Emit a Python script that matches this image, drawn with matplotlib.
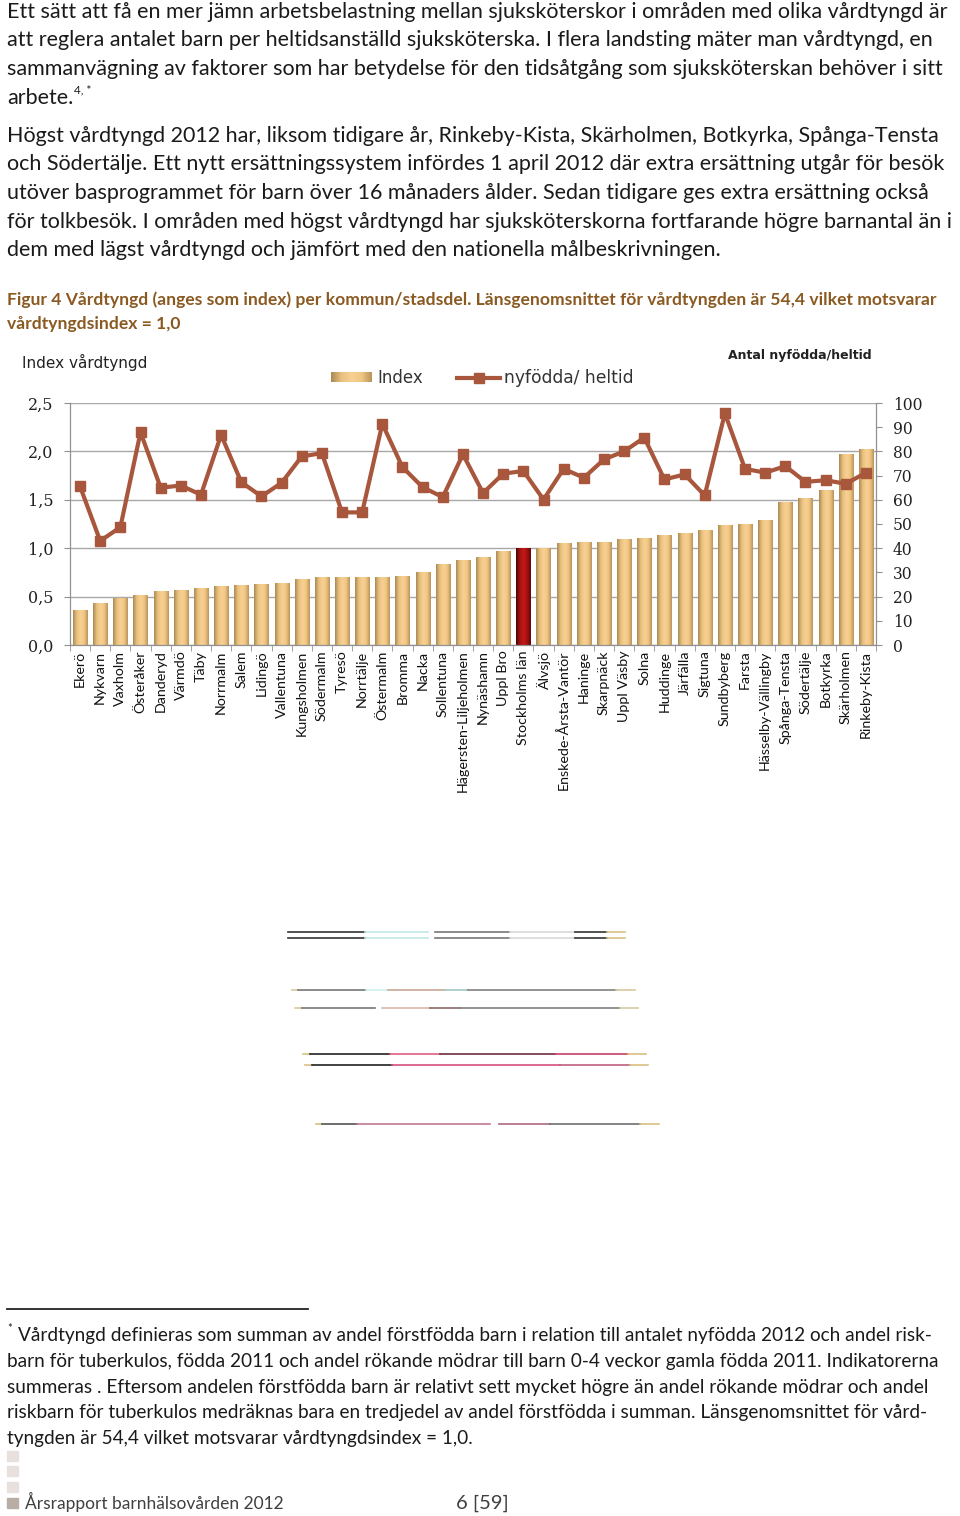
import numpy as np
import matplotlib
matplotlib.use('Agg')
import matplotlib.pyplot as plt
from matplotlib.colors import LinearSegmentedColormap
from matplotlib.lines import Line2D
from matplotlib.patches import Rectangle

W, H = 960, 1516

# data
categories = ['Ekerö', 'Nykvarn', 'Vaxholm', 'Österåker', 'Danderyd', 'Värmdö', 'Täby',
              'Norrmalm', 'Salem', 'Lidingö', 'Vallentuna', 'Kungsholmen', 'Södermalm',
              'Tyresö', 'Norrtälje', 'Östermalm', 'Bromma', 'Nacka', 'Sollentuna',
              'Hägersten-Liljeholmen', 'Nynäshamn', 'Uppl Bro', 'Stockholms län', 'Älvsjö',
              'Enskede-Årsta-Vantör', 'Haninge', 'Skarpnäck', 'Uppl Väsby', 'Solna',
              'Huddinge', 'Järfälla', 'Sigtuna', 'Sundbyberg', 'Farsta',
              'Hässelby-Vällingby', 'Spånga-Tensta', 'Södertälje', 'Botkyrka',
              'Skärholmen', 'Rinkeby-Kista']
index_values = [0.36, 0.43, 0.48, 0.51, 0.55, 0.56, 0.58, 0.60, 0.61, 0.62, 0.64, 0.68,
                0.70, 0.70, 0.70, 0.70, 0.71, 0.75, 0.83, 0.87, 0.90, 0.97, 1.00, 1.00,
                1.05, 1.06, 1.06, 1.09, 1.10, 1.13, 1.15, 1.18, 1.23, 1.25, 1.29, 1.47,
                1.51, 1.60, 1.97, 2.02]
nyfodda_values = [65.5, 43.0, 48.7, 87.9, 65.0, 65.9, 62.1, 86.8, 67.3, 61.4, 67.0, 77.9,
                  79.3, 54.8, 54.8, 91.4, 73.5, 65.2, 61.1, 78.8, 62.8, 70.8, 71.9, 60.1,
                  72.8, 69.1, 76.7, 80.0, 85.7, 68.4, 70.5, 61.8, 95.7, 72.8, 71.2, 73.9,
                  67.4, 68.1, 66.6, 71.2]
highlight = 'Stockholms län'

body_font = ['Lato', 'DejaVu Sans']
plt.rcParams['font.family'] = body_font

fig = plt.figure(figsize=(W / 100, H / 100), dpi=100)


def txt(x, y, s, **kw):
    kw.setdefault('va', 'baseline')
    return fig.text(x / W, 1 - y / H, s, **kw)


def fig_line(x0, x1, y, color, lw=1.0):
    fig.add_artist(Line2D([x0 / W, x1 / W], [1 - y / H, 1 - y / H], color=color, lw=lw))


body_size = 15.5
text_color = '#1a1a1a'
para1 = ["Ett sätt att få en mer jämn arbetsbelastning mellan sjuksköterskor i områden med olika vårdtyngd är",
         "att reglera antalet barn per heltidsanställd sjuksköterska. I flera landsting mäter man vårdtyngd, en",
         "sammanvägning av faktorer som har betydelse för den tidsåtgång som sjuksköterskan behöver i sitt"]
for i, line in enumerate(para1):
    txt(7, 18 + i * 28.5, line, fontsize=body_size, color=text_color)
t = txt(7, 18 + 3 * 28.5, "arbete.", fontsize=body_size, color=text_color)
fig.canvas.draw()
end_x = t.get_window_extent().x1
txt(end_x + 1, 93, "4, *", fontsize=8.5, color=text_color)

para2 = ["Högst vårdtyngd 2012 har, liksom tidigare år, Rinkeby-Kista, Skärholmen, Botkyrka, Spånga-Tensta",
         "och Södertälje. Ett nytt ersättningssystem infördes 1 april 2012 där extra ersättning utgår för besök",
         "utöver basprogrammet för barn över 16 månaders ålder. Sedan tidigare ges extra ersättning också",
         "för tolkbesök. I områden med högst vårdtyngd har sjuksköterskorna fortfarande högre barnantal än i",
         "dem med lägst vårdtyngd och jämfört med den nationella målbeskrivningen."]
for i, line in enumerate(para2):
    txt(7, 142 + i * 28.5, line, fontsize=body_size, color=text_color)

cap_color = '#8a5a22'
txt(7, 305, "Figur 4 Vårdtyngd (anges som index) per kommun/stadsdel. Länsgenomsnittet för vårdtyngden är 54,4 vilket motsvarar",
    fontsize=12.6, color=cap_color, fontweight='bold')
txt(7, 329, "vårdtyngdsindex = 1,0", fontsize=12.6, color=cap_color, fontweight='bold')

# chart
x0, x1, ytop, ybot = 70, 876, 403, 645
ax = fig.add_axes([x0 / W, 1 - ybot / H, (x1 - x0) / W, (ybot - ytop) / H])
ax2 = ax.twinx()

gold = LinearSegmentedColormap.from_list('gold', ['#a98a55', '#e9c07e', '#f8d093', '#f2c784', '#b8955c'])
red = LinearSegmentedColormap.from_list('red', ['#4a0505', '#a81010', '#c01a1a', '#a81010', '#5a0808'])
grad = np.linspace(0, 1, 64).reshape(1, -1)

xpos = np.arange(len(categories))
bars = ax.bar(xpos, index_values, width=0.7, color='none', zorder=2)
for name, b in zip(categories, bars):
    cmap = red if name == highlight else gold
    ax.imshow(grad, cmap=cmap, aspect='auto', zorder=2,
              extent=[b.get_x(), b.get_x() + b.get_width(), 0, b.get_height()])

ax.set_xlim(-0.5, len(categories) - 0.5)
ax.set_ylim(0, 2.5)
ax.set_yticks(np.arange(0, 2.51, 0.5))
ax.set_yticklabels([f"{v:.1f}".replace('.', ',') for v in np.arange(0, 2.51, 0.5)],
                   family=['DejaVu Serif'], fontsize=11.5, color='#222222')
ax.yaxis.grid(True, color='#a8a8a8', lw=1.0, zorder=0)
ax.set_axisbelow(True)
ax.set_xticks(xpos)
ax.set_xticklabels(categories, rotation=90, fontsize=10.3, color='#111111')
ax.set_xticks(np.arange(-0.5, len(categories), 1), minor=True)
ax.tick_params(axis='x', which='major', length=0, pad=4)
ax.tick_params(axis='x', which='minor', length=4, color='#909090')
ax.tick_params(axis='y', length=4, color='#909090', pad=8)
for side in ['top']:
    ax.spines[side].set_visible(False)
    ax2.spines[side].set_visible(False)
for sp in ['left', 'right', 'bottom']:
    ax.spines[sp].set_color('#909090')
    ax2.spines[sp].set_color('#909090')

ax2.plot(xpos, nyfodda_values, color='#a8563c', lw=3, marker='s', markersize=7,
         markerfacecolor='#a8563c', markeredgecolor='#a8563c', zorder=3)
ax2.set_ylim(0, 100)
ax2.set_yticks(np.arange(0, 101, 10))
ax2.set_yticklabels([str(v) for v in range(0, 101, 10)], family=['DejaVu Serif'],
                    fontsize=11.2, color='#222222')
ax2.tick_params(axis='y', length=4, color='#909090', pad=8)

# axis titles and legend
txt(22, 368, "Index vårdtyngd", fontsize=11, color='#222222', family=['DejaVu Sans'])
txt(728, 359, "Antal nyfödda/heltid", fontsize=9.0, color='#222222', family=['DejaVu Sans'],
    fontweight='bold')
lax = fig.add_axes([331 / W, 1 - 382 / H, 41 / W, 10 / H])
lax.imshow(grad, cmap=gold, aspect='auto')
lax.axis('off')
txt(377, 383, "Index", fontsize=12, color='#333333', family=['DejaVu Sans'])
fig.add_artist(Line2D([457 / W, 500 / W], [1 - 377.5 / H] * 2, color='#a8563c', lw=3))
fig.add_artist(Line2D([478.5 / W], [1 - 377.5 / H], color='#a8563c', marker='s', markersize=7))
txt(504, 383, "nyfödda/ heltid", fontsize=12.3, color='#333333', family=['DejaVu Sans'])

# stray rule fragments below the chart
fragments = [
    (932, [(288, 365, '#333333'), (365, 428, '#bfe8e8'), (435, 510, '#777777'),
           (510, 575, '#d8d8d8'), (575, 607, '#333333'), (607, 625, '#d8c080')]),
    (938, [(288, 365, '#333333'), (365, 428, '#bfe8e8'), (435, 510, '#777777'),
           (510, 575, '#d8d8d8'), (575, 607, '#333333'), (607, 625, '#d8c080')]),
    (990, [(292, 298, '#d8c8a0'), (298, 366, '#777777'), (366, 388, '#d0f0f0'),
           (388, 445, '#c8a898'), (445, 468, '#a0c8c8'), (468, 616, '#808080'), (616, 635, '#d8c8a0')]),
    (1008, [(295, 302, '#d8c8a0'), (302, 375, '#777777'), (382, 430, '#d8b8a8'),
            (430, 460, '#8a6a6a'), (460, 620, '#808080'), (620, 638, '#d8c8a0')]),
    (1054, [(303, 310, '#d8c080'), (310, 390, '#222222'), (390, 440, '#e06080'),
            (440, 555, '#703040'), (555, 628, '#c84068'), (628, 646, '#d8c080')]),
    (1065, [(305, 312, '#d8c080'), (312, 392, '#222222'), (392, 560, '#d85080'),
            (560, 630, '#c06080'), (630, 648, '#d8c080')]),
    (1124, [(316, 322, '#d8c080'), (322, 357, '#555555'), (357, 490, '#c07890'),
            (499, 550, '#b06880'), (550, 640, '#707070'), (640, 659, '#d8c080')]),
]
for y, segs in fragments:
    for a, b, c in segs:
        fig_line(a, b, y, c, lw=1.2)

# footnote
fig_line(7, 308, 1309, '#222222', lw=1.3)
foot_size = 13.7
txt(7, 1332, "*", fontsize=8, color=text_color)
foot = ["Vårdtyngd definieras som summan av andel förstfödda barn i relation till antalet nyfödda 2012 och andel risk-",
        "barn för tuberkulos, födda 2011 och andel rökande mödrar till barn 0-4 veckor gamla födda 2011. Indikatorerna",
        "summeras . Eftersom andelen förstfödda barn är relativt sett mycket högre än andel rökande mödrar och andel",
        "riskbarn för tuberkulos medräknas bara en tredjedel av andel förstfödda i summan. Länsgenomsnittet för vård-",
        "tyngden är 54,4 vilket motsvarar vårdtyngdsindex = 1,0."]
for i, line in enumerate(foot):
    x = 18 if i == 0 else 7
    txt(x, 1341 + i * 25.8, line, fontsize=foot_size, color=text_color)

# footer
for y, c in [(1451, '#e8e0dc'), (1466, '#e8e0dc'), (1482, '#e8e0dc'), (1498, '#b8aea6')]:
    fig.add_artist(Rectangle((7 / W, 1 - (y + 10) / H), 11 / W, 10 / H, color=c,
                             transform=fig.transFigure))
txt(25, 1509, "Årsrapport barnhälsovården 2012", fontsize=12.5, color='#404040')
txt(456, 1509, "6 [59]", fontsize=14.5, color='#404040')

fig.savefig('out.png', dpi=100)
